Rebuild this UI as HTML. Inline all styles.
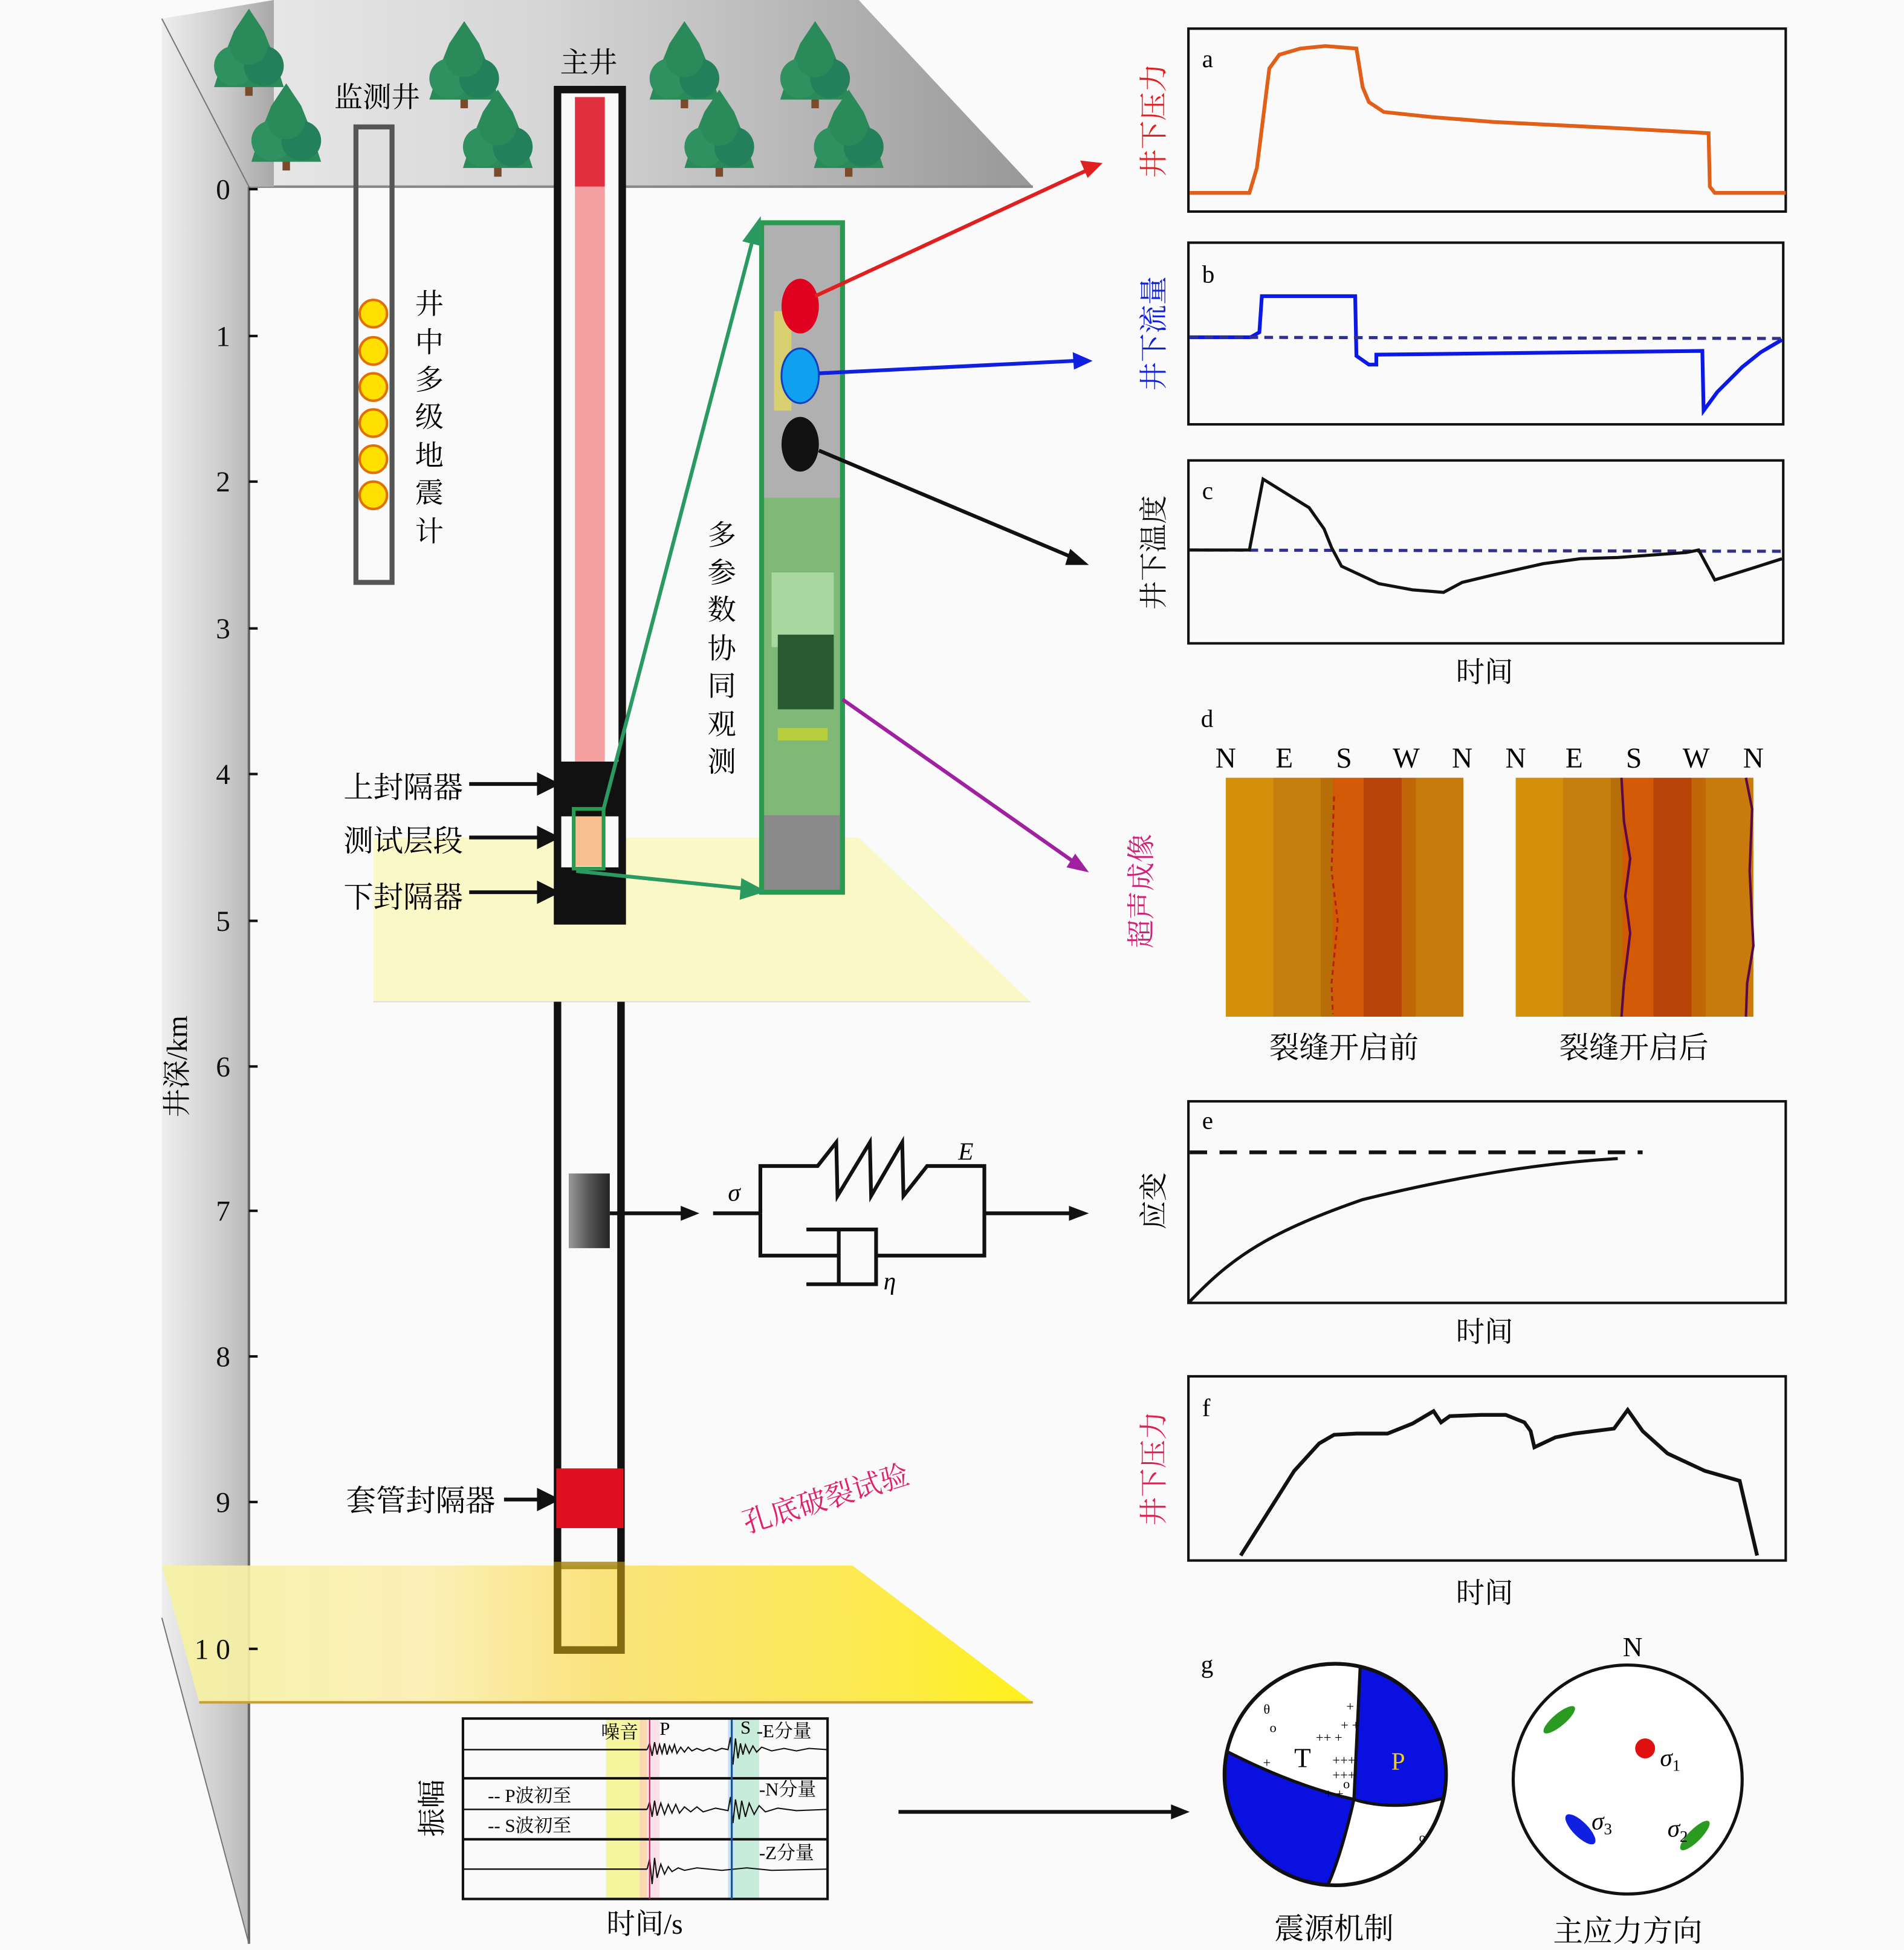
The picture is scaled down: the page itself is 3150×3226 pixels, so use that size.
<!DOCTYPE html>
<html><head><meta charset="utf-8"><style>
html,body{margin:0;padding:0;background:#fafafa}
svg{display:block}
text{font-family:"Liberation Serif","Noto Serif CJK SC","Noto Sans CJK SC",serif}
</style></head><body>
<svg width="3150" height="3226" viewBox="0 0 1530 1567" xmlns="http://www.w3.org/2000/svg">
<defs>
<linearGradient id="top" x1="0" x2="1" y1="0" y2="0">
<stop offset="0" stop-color="#e6e6e6"/><stop offset="0.35" stop-color="#d6d6d6"/><stop offset="0.6" stop-color="#c0c0c0"/><stop offset="1" stop-color="#989898"/></linearGradient>
<linearGradient id="wall" x1="0" x2="1" y1="0" y2="0">
<stop offset="0" stop-color="#eeeeee"/><stop offset="0.5" stop-color="#cfcfcf"/><stop offset="1" stop-color="#a8a8a8"/></linearGradient>
<linearGradient id="ylow" x1="0" x2="1" y1="0" y2="0">
<stop offset="0" stop-color="#f6f2a0"/><stop offset="0.3" stop-color="#fbefb0"/><stop offset="0.5" stop-color="#fbe070"/><stop offset="0.8" stop-color="#fde840"/><stop offset="1" stop-color="#fef000"/></linearGradient>
<linearGradient id="img" x1="0" x2="1" y1="0" y2="0">
<stop offset="0" stop-color="#d4900a"/><stop offset="0.2" stop-color="#d4900a"/><stop offset="0.2" stop-color="#c47e0c"/><stop offset="0.4" stop-color="#c47e0c"/><stop offset="0.4" stop-color="#b86e08"/><stop offset="0.45" stop-color="#b86e08"/><stop offset="0.45" stop-color="#d25a06"/><stop offset="0.58" stop-color="#d25a06"/><stop offset="0.58" stop-color="#b84308"/><stop offset="0.74" stop-color="#b84308"/><stop offset="0.74" stop-color="#c06808"/><stop offset="0.8" stop-color="#c06808"/><stop offset="0.8" stop-color="#c87a0c"/><stop offset="1" stop-color="#c87a0c"/></linearGradient>
<linearGradient id="rock" x1="0" x2="1"><stop offset="0" stop-color="#999"/><stop offset="0.5" stop-color="#555"/><stop offset="1" stop-color="#222"/></linearGradient>
<g id="tree"><rect x="-3" y="40" width="6" height="22" fill="#7a4a2a"/><path d="M0,-8 L-12,10 L-20,30 L-28,55 L28,55 L20,30 L12,10z" fill="#2a8a5a"/><circle cx="-12" cy="38" r="16" fill="#2f9060"/><circle cx="12" cy="38" r="16" fill="#24805a"/><circle cx="0" cy="22" r="15" fill="#2a8a5a"/></g>
</defs>

<polygon points="220,0 690,0 830,150 220,150" fill="url(#top)"/>
<line x1="200" y1="150" x2="830" y2="150" stroke="#888" stroke-width="2"/>
<polygon points="130,15 220,0 220,150 200,150 200,1562 130,1300" fill="url(#wall)"/>
<line x1="130" y1="15" x2="200" y2="150" stroke="#777" stroke-width="1"/>
<line x1="200" y1="150" x2="200" y2="1562" stroke="#666" stroke-width="2"/>
<line x1="130" y1="1300" x2="200" y2="1562" stroke="#777" stroke-width="1"/>

<use href="#tree" x="200" y="15"/><use href="#tree" x="230" y="75"/>
<use href="#tree" x="373" y="25"/><use href="#tree" x="400" y="80"/>
<use href="#tree" x="550" y="25"/><use href="#tree" x="578" y="80"/>
<use href="#tree" x="655" y="25"/><use href="#tree" x="682" y="80"/>

<polygon points="300,673 690,673 828,805 300,805" fill="#fbf8c8"/>
<line x1="300" y1="805" x2="828" y2="805" stroke="#ddd" stroke-width="1"/>
<polygon points="130,1258 685,1258 830,1368 160,1368" fill="url(#ylow)" opacity="0.9"/>
<line x1="160" y1="1368" x2="830" y2="1368" stroke="#c9a030" stroke-width="2"/>

<g font-size="23" text-anchor="end" fill="#111">
<text x="185" y="160">0</text><text x="185" y="278">1</text><text x="185" y="395">2</text><text x="185" y="513">3</text><text x="185" y="630">4</text><text x="185" y="748">5</text><text x="185" y="865">6</text><text x="185" y="981">7</text><text x="185" y="1098">8</text><text x="185" y="1215">9</text><text x="185" y="1333">1 0</text>
</g>
<g stroke="#111" stroke-width="2">
<line x1="200" y1="152" x2="207" y2="152"/><line x1="200" y1="270" x2="207" y2="270"/><line x1="200" y1="387" x2="207" y2="387"/><line x1="200" y1="505" x2="207" y2="505"/><line x1="200" y1="622" x2="207" y2="622"/><line x1="200" y1="740" x2="207" y2="740"/><line x1="200" y1="857" x2="207" y2="857"/><line x1="200" y1="973" x2="207" y2="973"/><line x1="200" y1="1090" x2="207" y2="1090"/><line x1="200" y1="1207" x2="207" y2="1207"/><line x1="200" y1="1325" x2="207" y2="1325"/>
</g>
<text x="150" y="857" font-size="23" transform="rotate(-90 150 857)" text-anchor="middle">井深/km</text>

<text x="303" y="86" font-size="23" text-anchor="middle">监测井</text>
<rect x="286" y="102" width="29" height="366" fill="none" stroke="#555" stroke-width="4"/>
<g fill="#ffe000" stroke="#e07000" stroke-width="2">
<circle cx="300" cy="252" r="11"/><circle cx="300" cy="282" r="11"/><circle cx="300" cy="311" r="11"/><circle cx="300" cy="340" r="11"/><circle cx="300" cy="369" r="11"/><circle cx="300" cy="398" r="11"/></g>
<g font-size="23" text-anchor="middle"><text x="345" y="252">井</text><text x="345" y="283">中</text><text x="345" y="313">多</text><text x="345" y="343">级</text><text x="345" y="374">地</text><text x="345" y="404">震</text><text x="345" y="435">计</text></g>

<text x="473" y="58" font-size="23" text-anchor="middle">主井</text>
<rect x="448" y="72" width="52" height="668" fill="#fafafa" stroke="#111" stroke-width="6"/>
<rect x="462" y="78" width="24" height="72" fill="#e03040"/>
<rect x="462" y="150" width="24" height="462" fill="#f4a0a0"/>
<rect x="447" y="612" width="54" height="44" fill="#111"/>
<rect x="447" y="697" width="54" height="44" fill="#111"/>
<rect x="462" y="656" width="24" height="40" fill="#f8c090"/>
<rect x="461" y="650" width="24" height="48" fill="none" stroke="#2a9a50" stroke-width="3"/>
<g font-size="24" text-anchor="end"><text x="372" y="641">上封隔器</text><text x="372" y="684">测试层段</text><text x="372" y="729">下封隔器</text><text x="398" y="1214">套管封隔器</text></g>
<g stroke="#111" stroke-width="3" fill="#111">
<line x1="377" y1="630" x2="435" y2="630"/><polygon points="447,630 433,623 433,637"/>
<line x1="377" y1="673" x2="435" y2="673"/><polygon points="447,673 433,666 433,680"/>
<line x1="377" y1="717" x2="435" y2="717"/><polygon points="447,717 433,710 433,724"/>
<line x1="405" y1="1205" x2="435" y2="1205"/><polygon points="447,1205 433,1198 433,1212"/>
</g>
<path d="M448,805 V1326 H499 V805" fill="none" stroke="#111" stroke-width="6"/>
<rect x="457" y="943" width="33" height="60" fill="url(#rock)"/>
<rect x="447" y="1180" width="54" height="48" fill="#e01020"/>
<rect x="448" y="1258" width="51" height="68" fill="none" stroke="#a08010" stroke-width="6" opacity="0.8"/>
<line x1="490" y1="975" x2="555" y2="975" stroke="#111" stroke-width="3"/><polygon points="562,975 547,969 547,981" fill="#111"/>

<rect x="613" y="180" width="63" height="220" fill="#b0b0b0"/>
<rect x="622" y="250" width="14" height="80" fill="#d8d070"/>
<rect x="613" y="400" width="63" height="255" fill="#80b878"/>
<rect x="620" y="460" width="50" height="60" fill="#a8d8a0"/>
<rect x="625" y="510" width="45" height="60" fill="#2a5a30"/>
<rect x="625" y="585" width="40" height="10" fill="#b8d040"/>
<rect x="613" y="655" width="63" height="62" fill="#8a8a8a"/>
<rect x="612" y="179" width="65" height="538" fill="none" stroke="#2a9a50" stroke-width="4"/>
<ellipse cx="643" cy="246" rx="15" ry="22" fill="#e00020"/>
<ellipse cx="643" cy="302" rx="15" ry="22" fill="#10a0f0" stroke="#1040c0" stroke-width="1.5"/>
<ellipse cx="643" cy="357" rx="15" ry="22" fill="#111"/>
<g font-size="23" text-anchor="middle"><text x="580" y="438">多</text><text x="580" y="468">参</text><text x="580" y="498">数</text><text x="580" y="529">协</text><text x="580" y="559">同</text><text x="580" y="590">观</text><text x="580" y="620">测</text></g>
<g stroke="#2a9a60" stroke-width="3" fill="#2a9a60">
<line x1="485" y1="650" x2="605" y2="192"/><polygon points="610,178 599,193 611,196"/>
<line x1="463" y1="700" x2="598" y2="714"/><polygon points="612,716 597,708 596,721"/>
</g>
<line x1="655" y1="238" x2="873" y2="137" stroke="#e02020" stroke-width="3"/><polygon points="886,131 868,129 874,143" fill="#e02020"/>
<line x1="658" y1="300" x2="863" y2="290" stroke="#1020e0" stroke-width="3"/><polygon points="878,290 862,283 863,297" fill="#1020e0"/>
<line x1="658" y1="362" x2="862" y2="448" stroke="#111" stroke-width="3"/><polygon points="875,454 860,441 856,454" fill="#111"/>
<line x1="677" y1="562" x2="862" y2="692" stroke="#a020a0" stroke-width="3"/><polygon points="875,701 864,686 857,697" fill="#a020a0"/>

<g stroke="#111" stroke-width="3" fill="none">
<line x1="573" y1="975" x2="611" y2="975"/>
<path d="M611,975 V937 H657 L672,918 L673,961 L699,918 L700,961 L725,918 L726,961 L745,937 H791 V1009 H704"/>
<path d="M611,975 V1009 H674"/>
<path d="M648,988 H704 V1032 H648"/>
<line x1="674" y1="988" x2="674" y2="1032"/>
<line x1="791" y1="975" x2="860" y2="975"/>
</g>
<polygon points="875,975 859,969 859,981" fill="#111"/>
<text x="585" y="965" font-size="20" font-style="italic">σ</text>
<text x="770" y="932" font-size="20" font-style="italic">E</text>
<text x="710" y="1036" font-size="20" font-style="italic">η</text>

<text x="600" y="1232" font-size="23" fill="#e0206a" transform="rotate(-17 600 1232)">孔底破裂试验</text>

<rect x="487" y="1382" width="27" height="143" fill="#f6f6a0"/>
<rect x="514" y="1382" width="6" height="143" fill="#fad8b0"/>
<rect x="520" y="1382" width="10" height="143" fill="#fbe0ea"/>
<rect x="585" y="1382" width="5" height="143" fill="#c0e0f8"/>
<rect x="590" y="1382" width="20" height="143" fill="#c8ecdc"/>
<rect x="372" y="1381" width="293" height="145" fill="none" stroke="#111" stroke-width="2"/>
<line x1="372" y1="1429" x2="665" y2="1429" stroke="#111" stroke-width="2"/>
<line x1="372" y1="1478" x2="665" y2="1478" stroke="#111" stroke-width="2"/>
<line x1="372" y1="1406" x2="520" y2="1406" stroke="#111" stroke-width="1.2"/>
<line x1="372" y1="1454" x2="520" y2="1454" stroke="#111" stroke-width="1.2"/>
<line x1="372" y1="1502" x2="520" y2="1502" stroke="#111" stroke-width="1.2"/>
<polyline fill="none" stroke="#111" stroke-width="1" points="520,1406 522,1401 524,1411 526,1400 528,1410 530,1402 532,1409 534,1401 536,1410 538,1403 540,1408 542,1402 544,1409 547,1404 550,1408 553,1404 556,1407 560,1405 565,1407 570,1405 575,1407 580,1405 585,1406 587,1396 589,1418 591,1397 593,1413 595,1401 597,1410 599,1402 602,1409 605,1403 608,1408 612,1404 620,1407 630,1405 640,1407 650,1405 665,1406"/>
<polyline fill="none" stroke="#111" stroke-width="1" points="520,1454 522,1448 524,1460 526,1447 528,1459 531,1449 534,1458 537,1450 540,1457 543,1450 546,1457 550,1452 555,1456 560,1452 565,1456 575,1453 585,1455 587,1444 589,1465 591,1446 594,1462 596,1447 599,1460 602,1449 606,1458 610,1451 615,1456 625,1453 640,1455 665,1454"/>
<polyline fill="none" stroke="#111" stroke-width="1" points="520,1502 522,1494 524,1514 526,1493 528,1509 531,1498 534,1506 537,1500 540,1504 545,1501 550,1503 560,1501 580,1503 600,1501 620,1503 665,1502"/>
<line x1="522" y1="1382" x2="522" y2="1526" stroke="#c02050" stroke-width="1"/>
<line x1="588" y1="1382" x2="588" y2="1526" stroke="#1050a0" stroke-width="1.5"/>
<g font-size="15"><text x="483" y="1397">噪音</text><text x="530" y="1394">P</text><text x="595" y="1393">S</text><text x="608" y="1396">-E分量</text><text x="610" y="1443">-N分量</text><text x="610" y="1494">-Z分量</text><text x="392" y="1448">-- P波初至</text><text x="392" y="1472">-- S波初至</text></g>
<text x="355" y="1453" font-size="23" transform="rotate(-90 355 1453)" text-anchor="middle">振幅</text>
<text x="518" y="1554" font-size="23" text-anchor="middle">时间/s</text>
<line x1="722" y1="1456" x2="943" y2="1456" stroke="#111" stroke-width="3"/><polygon points="956,1456 941,1450 941,1462" fill="#111"/>

<g fill="none" stroke="#111" stroke-width="2">
<rect x="955" y="23" width="480" height="147"/><rect x="955" y="195" width="478" height="146"/><rect x="955" y="370" width="478" height="147"/>
<rect x="955" y="885" width="480" height="162"/><rect x="955" y="1106" width="480" height="148"/>
</g>
<g font-size="20"><text x="966" y="54">a</text><text x="966" y="227">b</text><text x="966" y="401">c</text><text x="965" y="584">d</text><text x="966" y="907">e</text><text x="966" y="1138">f</text><text x="965" y="1344">g</text></g>
<polyline fill="none" stroke="#e0601a" stroke-width="3" points="956,155 1004,155 1010,135 1020,55 1028,44 1045,39 1065,37 1090,39 1095,70 1100,82 1112,90 1150,94 1200,98 1300,103 1373,107 1374,150 1378,155 1435,155"/>
<polyline fill="none" stroke="#0a18e8" stroke-width="3" points="956,271 1005,271 1012,267 1014,238 1089,238 1090,286 1100,293 1106,293 1106,285 1368,282 1369,330 1380,315 1400,295 1415,283 1432,273"/>
<line x1="956" y1="271" x2="1432" y2="272" stroke="#303090" stroke-width="2.5" stroke-dasharray="7,5"/>
<line x1="956" y1="442" x2="1432" y2="443" stroke="#303090" stroke-width="2.5" stroke-dasharray="7,5"/>
<polyline fill="none" stroke="#111" stroke-width="2.5" points="956,442 1004,442 1015,385 1052,408 1064,425 1070,440 1078,455 1108,469 1135,474 1160,476 1175,468 1200,462 1240,453 1270,449 1300,448 1355,444 1365,442 1378,466 1410,456 1432,449"/>
<text x="1193" y="548" font-size="23" text-anchor="middle">时间</text>
<text x="935" y="97" font-size="23" fill="#e02020" transform="rotate(-90 935 97)" text-anchor="middle">井下压力</text>
<text x="935" y="268" font-size="23" fill="#1020e0" transform="rotate(-90 935 268)" text-anchor="middle">井下流量</text>
<text x="935" y="444" font-size="23" fill="#111" transform="rotate(-90 935 444)" text-anchor="middle">井下温度</text>
<text x="925" y="716" font-size="23" fill="#d0207a" transform="rotate(-90 925 716)" text-anchor="middle">超声成像</text>
<text x="935" y="965" font-size="23" transform="rotate(-90 935 965)" text-anchor="middle">应变</text>
<text x="935" y="1180" font-size="23" fill="#e02050" transform="rotate(-90 935 1180)" text-anchor="middle">井下压力</text>

<g font-size="23" text-anchor="middle"><text x="985" y="617">N</text><text x="1032" y="617">E</text><text x="1080" y="617">S</text><text x="1130" y="617">W</text><text x="1175" y="617">N</text><text x="1218" y="617">N</text><text x="1265" y="617">E</text><text x="1313" y="617">S</text><text x="1363" y="617">W</text><text x="1409" y="617">N</text></g>
<rect x="985" y="625" width="191" height="192" fill="url(#img)"/>
<rect x="1218" y="625" width="191" height="192" fill="url(#img)"/>
<polyline fill="none" stroke="#b82010" stroke-width="1.5" stroke-dasharray="4,3" points="1072,640 1070,700 1075,740 1070,790 1071,815"/>
<polyline fill="none" stroke="#5a0848" stroke-width="2" points="1303,625 1305,660 1310,690 1306,720 1310,750 1305,790 1303,817"/>
<polyline fill="none" stroke="#5a0848" stroke-width="2" points="1403,625 1408,650 1406,700 1409,760 1404,790 1403,817"/>
<text x="1080" y="850" font-size="24" text-anchor="middle">裂缝开启前</text>
<text x="1313" y="850" font-size="24" text-anchor="middle">裂缝开启后</text>

<line x1="956" y1="926" x2="1320" y2="926" stroke="#111" stroke-width="3" stroke-dasharray="14,10"/>
<path d="M956,1046 C990,1010 1020,990 1095,964 C1160,948 1230,935 1300,931" fill="none" stroke="#111" stroke-width="2.5"/>
<text x="1193" y="1078" font-size="23" text-anchor="middle">时间</text>
<polyline fill="none" stroke="#111" stroke-width="3" points="997,1250 1040,1182 1060,1160 1072,1153 1090,1152 1115,1152 1135,1144 1152,1134 1158,1143 1165,1138 1190,1137 1210,1137 1225,1143 1230,1150 1233,1163 1250,1155 1265,1152 1297,1148 1308,1133 1320,1150 1340,1168 1370,1182 1398,1190 1412,1250"/>
<text x="1193" y="1288" font-size="23" text-anchor="middle">时间</text>

<circle cx="1073" cy="1426" r="89" fill="#fff"/>
<path d="M1091,1340 A89,89 0 0 1 1160,1445 Q1120,1456 1088,1446 Q1090,1400 1093,1340z" fill="#0a10e0"/>
<path d="M987,1408 Q1040,1435 1088,1446 Q1078,1490 1067,1515 A89,89 0 0 1 987,1408z" fill="#0a10e0"/>
<path d="M987,1408 Q1040,1435 1088,1446 Q1120,1456 1160,1445 M1093,1340 Q1090,1400 1088,1446 Q1078,1490 1067,1515" fill="none" stroke="#111" stroke-width="2.5"/>
<circle cx="1073" cy="1426" r="89" fill="none" stroke="#111" stroke-width="3"/>
<text x="1040" y="1420" font-size="22">T</text><text x="1118" y="1422" font-size="20" fill="#e8d020">P</text>
<g font-size="11" text-anchor="middle"><text x="1085" y="1375">+</text><text x="1085" y="1390">+ +</text><text x="1068" y="1400">++ +</text><text x="1080" y="1418">+++</text><text x="1080" y="1430">+++</text><text x="1018" y="1420">+</text><text x="1072" y="1445">+ +</text><text x="1018" y="1377">θ</text><text x="1023" y="1392">o</text><text x="1082" y="1437">o</text><text x="1143" y="1480">o</text></g>

<circle cx="1308" cy="1430" r="92" fill="#fff" stroke="#111" stroke-width="2.5"/>
<text x="1312" y="1331" font-size="22" text-anchor="middle">N</text>
<g fill="#2a9a20"><ellipse cx="1253" cy="1382" rx="5" ry="16" transform="rotate(50 1253 1382)"/><ellipse cx="1362" cy="1475" rx="5" ry="16" transform="rotate(45 1362 1475)"/></g>
<circle cx="1322" cy="1405" r="8" fill="#e01010"/>
<ellipse cx="1270" cy="1470" rx="6" ry="16" transform="rotate(-45 1270 1470)" fill="#1020e0"/>
<g font-size="20" font-style="italic"><text x="1334" y="1419">σ<tspan font-size="13" dy="4" font-style="normal">1</tspan></text><text x="1279" y="1470">σ<tspan font-size="13" dy="4" font-style="normal">3</tspan></text><text x="1340" y="1476">σ<tspan font-size="13" dy="4" font-style="normal">2</tspan></text></g>

<text x="1072" y="1558" font-size="24" text-anchor="middle">震源机制</text>
<text x="1308" y="1560" font-size="24" text-anchor="middle">主应力方向</text>
</svg>
</body></html>
